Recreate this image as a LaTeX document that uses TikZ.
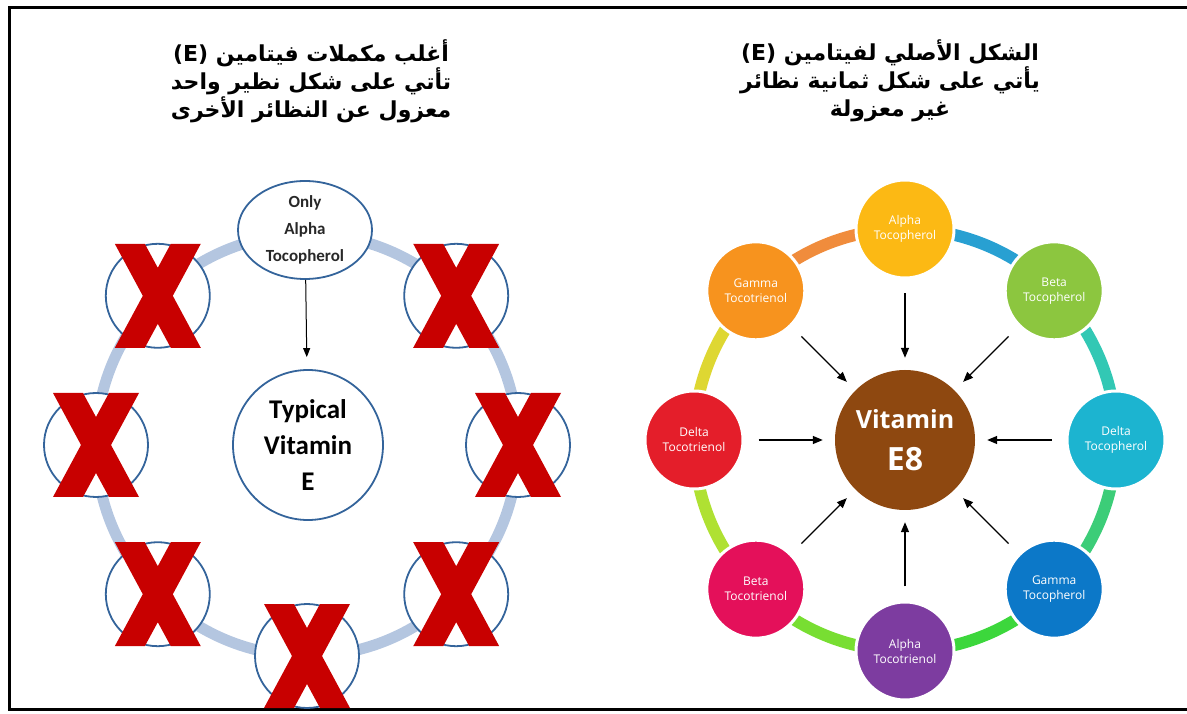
\documentclass[tikz,border=0pt]{standalone}
\usepackage{fontspec}
\usetikzlibrary{shapes.geometric,arrows.meta,calc}
\TeXXeTstate=1
\newfontfamily\arabicfont[Script=Arabic]{DejaVu Sans}
\newfontfamily\carl{Carlito}
\newfontfamily\osans{Open Sans}
\definecolor{ringblue}{RGB}{180,198,224}
\definecolor{bluedark}{RGB}{52,100,155}
\definecolor{xred}{RGB}{200,0,0}
\definecolor{cAT}{RGB}{252,185,20}
\definecolor{cBT}{RGB}{140,198,63}
\definecolor{cDT}{RGB}{28,180,208}
\definecolor{cGT}{RGB}{12,120,200}
\definecolor{cAN}{RGB}{125,60,160}
\definecolor{cBN}{RGB}{228,16,90}
\definecolor{cDN}{RGB}{228,30,42}
\definecolor{cGN}{RGB}{247,147,30}
\definecolor{cE}{RGB}{142,72,16}
\definecolor{s1}{RGB}{40,160,210}
\definecolor{s2}{RGB}{50,200,180}
\definecolor{s3}{RGB}{60,205,120}
\definecolor{s4}{RGB}{60,215,60}
\definecolor{s5}{RGB}{120,222,50}
\definecolor{s6}{RGB}{175,225,50}
\definecolor{s7}{RGB}{222,215,50}
\definecolor{s8}{RGB}{240,140,60}
\begin{document}
\begin{tikzpicture}[x=1pt,y=1pt,
  ringL/.style={line width=11pt, draw=ringblue},
  xcirc/.style={circle, draw=bluedark, line width=1.8pt, fill=white, minimum size=104pt, inner sep=0pt},
  titletext/.style={align=center, font=\arabicfont\bfseries\fontsize{22}{28}\selectfont, inner sep=0pt},
  outer/.style={circle, minimum size=98pt, inner sep=0pt, draw=white, line width=3pt, text=white, align=center, font=\osans\fontsize{12}{15}\selectfont},
  arr/.style={line width=1.4pt, -{Triangle[length=10pt,width=8pt]}, shorten <=14pt, shorten >=12pt},
  seg/.style={line width=12pt}
]
\useasboundingbox (0,0) rectangle (1187,713);
% frame
\draw[line width=3pt] (1187,705) -- (9,705) -- (9,4) -- (1187,4);

% titles
\node[titletext] (tl) at (311,632) {\beginR أغلب مكملات فيتامين \beginL(E)\endL\endR\\ \beginR تأتي على شكل نظير واحد\endR\\ \beginR معزول عن النظائر الأخرى\endR};
\node[titletext] (tr) at (890,632) {\beginR الشكل الأصلي لفيتامين \beginL(E)\endL\endR\\ \beginR يأتي على شكل ثمانية نظائر\endR\\ \beginR غير معزولة\endR};

% ===== left diagram =====
\coordinate (L) at (307,268);
\draw[ringL] (L) circle[radius=211];
\node[ellipse, draw=bluedark, line width=1.8pt, fill=white, minimum width=134pt, minimum height=98pt, inner sep=0pt, align=center, font=\carl\bfseries\fontsize{17}{27}\selectfont, text={rgb,255:red,40;green,40;blue,40}] (only) at (305,483) {Only\\Alpha\\Tocopherol};
\node[circle, draw=bluedark, line width=1.8pt, fill=white, minimum size=150pt, inner sep=0pt, align=center, font=\carl\bfseries\fontsize{27}{36}\selectfont] (typ) at (308,268) {Typical\\Vitamin\\E};
\draw[line width=1pt, -{Triangle[length=9pt,width=7pt]}, shorten >=12pt] (only) -- (typ);
\foreach \a/\n in {135/x1,180/x2,225/x3,270/x4,315/x5,0/x6,45/x7}{
  \node[xcirc] (\n) at ($(L)+(\a:211)$) {};
  \fill[xred, shift={(\n)}] (-43,52) -- (-13,52) -- (0,28) -- (13,52) -- (43,52) -- (15,0)
     -- (43,-52) -- (13,-52) -- (0,-28) -- (-13,-52) -- (-43,-52) -- (-15,0) -- cycle;
}

% ===== right diagram =====
\coordinate (R) at (905,273);
\foreach \a/\c in {90/s1,45/s2,0/s3,-45/s4,-90/s5,-135/s6,180/s7,135/s8}{
  \draw[seg, draw=\c] ($(R)+(\a:211)$) arc[start angle=\a, end angle=\a-45, radius=211];
}
\node[circle, fill=cE, minimum size=140pt, inner sep=0pt, text=white, align=center, font=\osans\bfseries\fontsize{25}{30}\selectfont] (vit) at (R) {Vitamin\\[12pt]\fontsize{32}{34}\selectfont E8};
\node[outer, fill=cAT] (at) at ($(R)+(90:211)$) {Alpha\\Tocopherol};
\node[outer, fill=cBT] (bt) at ($(R)+(45:211)$) {Beta\\Tocopherol};
\node[outer, fill=cDT] (dt) at ($(R)+(0:211)$) {Delta\\Tocopherol};
\node[outer, fill=cGT] (gt) at ($(R)+(-45:211)$) {Gamma\\Tocopherol};
\node[outer, fill=cAN] (an) at ($(R)+(-90:211)$) {Alpha\\Tocotrienol};
\node[outer, fill=cBN] (bn) at ($(R)+(-135:211)$) {Beta\\Tocotrienol};
\node[outer, fill=cDN] (dn) at ($(R)+(180:211)$) {Delta\\Tocotrienol};
\node[outer, fill=cGN] (gn) at ($(R)+(135:211)$) {Gamma\\Tocotrienol};
\foreach \n in {at,bt,dt,gt,an,bn,dn,gn}{
  \draw[arr] (\n) -- (vit);
}
\end{tikzpicture}
\end{document}
